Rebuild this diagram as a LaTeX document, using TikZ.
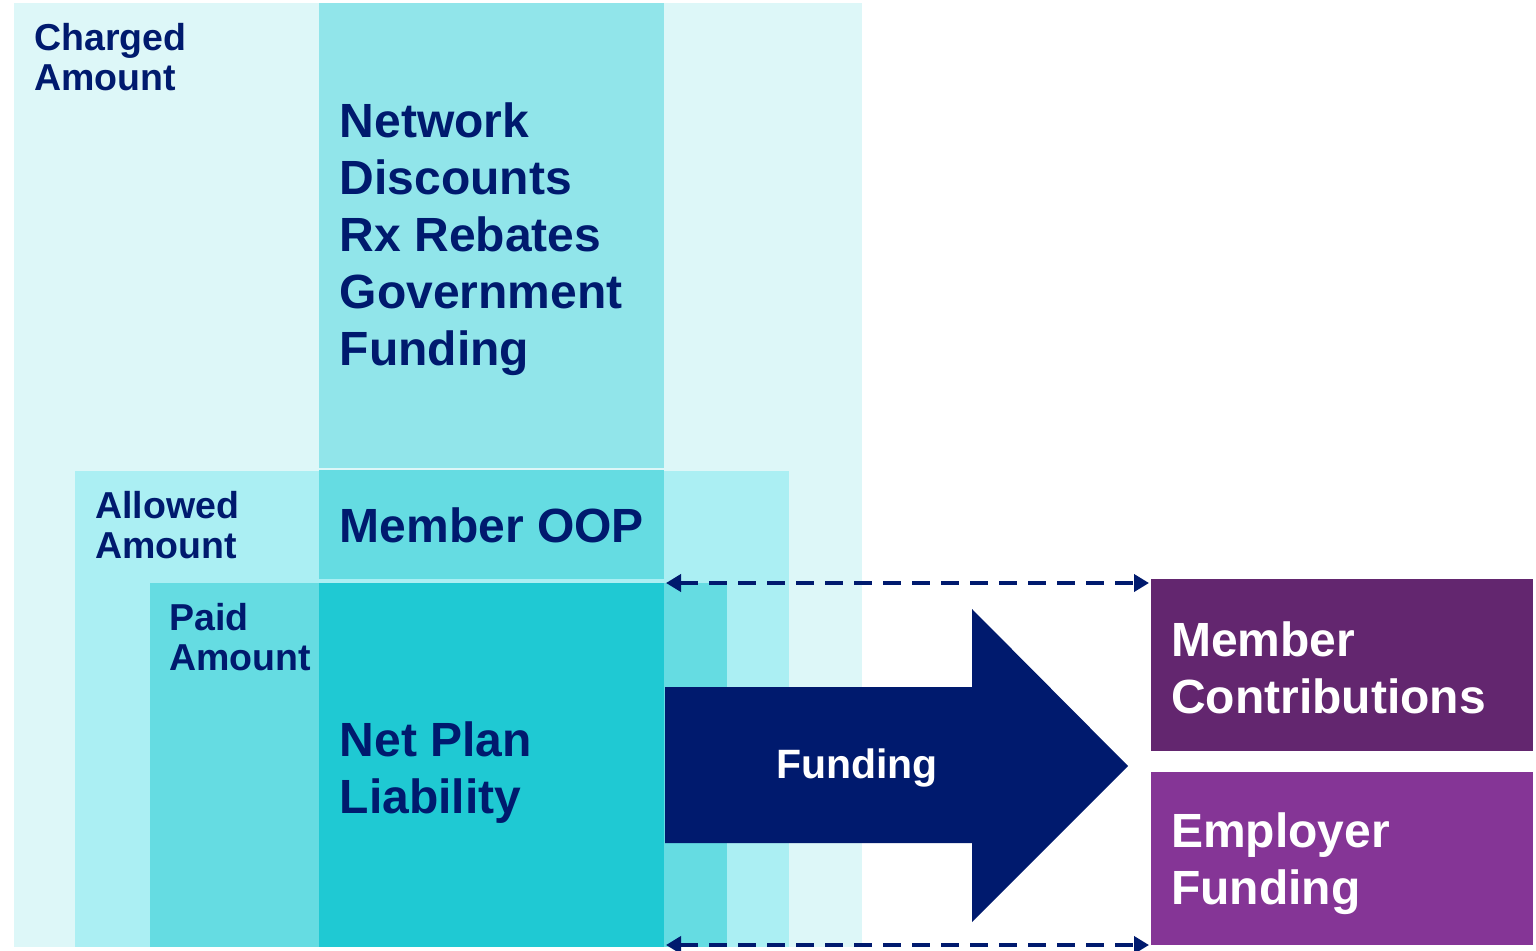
\documentclass[tikz,border=0pt]{standalone}
\usepackage{fontspec}
\setmainfont{Liberation Sans}
\usetikzlibrary{arrows.meta}
\definecolor{navy}{HTML}{001A6E}
\definecolor{chargedc}{HTML}{DDF7F8}
\definecolor{networkc}{HTML}{91E5EA}
\definecolor{allowedc}{HTML}{ABEFF3}
\definecolor{paidc}{HTML}{65DCE2}
\definecolor{netc}{HTML}{1FC9D3}
\definecolor{memc}{HTML}{63266F}
\definecolor{empc}{HTML}{853596}
\begin{document}
\begin{tikzpicture}[x=1pt, y=-1pt,
  box/.style={anchor=north west, inner sep=0pt, outer sep=0pt, draw=none},
  lbl/.style={anchor=north west, inner sep=0pt, align=left, text=navy},
  dasharr/.style={{Triangle[length=15pt,width=17pt]}-{Triangle[length=15pt,width=17pt]}, navy, line width=4.5pt, dash pattern=on 18pt off 11pt}]
\fill[white] (0,0) rectangle (1536,950);
\useasboundingbox (0,0) rectangle (1536,950);
\node (charged) at (14, 3) [box, fill=chargedc, minimum width=848pt, minimum height=944pt] {};
\node (network) at (319, 3) [box, fill=networkc, minimum width=345pt, minimum height=465pt] {};
\node (allowed) at (75, 470.5) [box, fill=allowedc, minimum width=714pt, minimum height=476.5pt] {};
\node (oop) at (319, 469.5) [box, fill=paidc, minimum width=345pt, minimum height=109pt] {};
\node (paid) at (150, 583) [box, fill=paidc, minimum width=577pt, minimum height=364pt] {};
\node (netplan) at (319, 583) [box, fill=netc, minimum width=345pt, minimum height=364pt] {};
\node (memb) at (1151, 579) [box, fill=memc, minimum width=382pt, minimum height=172pt] {};
\node (empl) at (1151, 772) [box, fill=empc, minimum width=382pt, minimum height=173pt] {};
% labels
\node (chargedtxt) at (34, 23) [lbl, font=\bfseries\fontsize{37.5}{40}\selectfont] {Charged\\Amount};
\node (networktxt) at (339.5, 102.5) [lbl, font=\bfseries\fontsize{48}{57}\selectfont] {Network\\Discounts\\Rx Rebates\\Government\\Funding};
\node (allowedtxt) at (95, 491) [lbl, font=\bfseries\fontsize{37.5}{40}\selectfont] {Allowed\\Amount};
\node (ooptxt) at (339.5, 508) [lbl, font=\bfseries\fontsize{48}{57}\selectfont] {Member OOP};
\node (paidtxt) at (169, 603) [lbl, font=\bfseries\fontsize{37.5}{40}\selectfont] {Paid\\Amount};
\node (nettxt) at (339.5, 721.5) [lbl, font=\bfseries\fontsize{48}{57}\selectfont] {Net Plan\\Liability};
\node (membtxt) at (1171, 621.5) [lbl, text=white, font=\bfseries\fontsize{48}{57}\selectfont] {Member\\Contributions};
\node (empltxt) at (1171, 813) [lbl, text=white, font=\bfseries\fontsize{48}{57}\selectfont] {Employer\\Funding};
% big arrow
\fill[navy] (665,687) -- (972,687) -- (972,609) -- (1128,766) -- (972,922) -- (972,843) -- (665,843) -- cycle;
\node (fund) at (857, 778) [anchor=base, inner sep=0pt, text=white, font=\bfseries\fontsize{41}{48}\selectfont] {Funding};
% dashed arrows
\draw [dasharr, shorten <=2pt, shorten >=2pt] (netplan.north east) -- (netplan.north east -| memb.west);
\draw [dasharr, shorten <=2pt, shorten >=2pt] ([yshift=2pt]netplan.south east) -- ([yshift=2pt]netplan.south east -| empl.west);
\end{tikzpicture}
\end{document}
